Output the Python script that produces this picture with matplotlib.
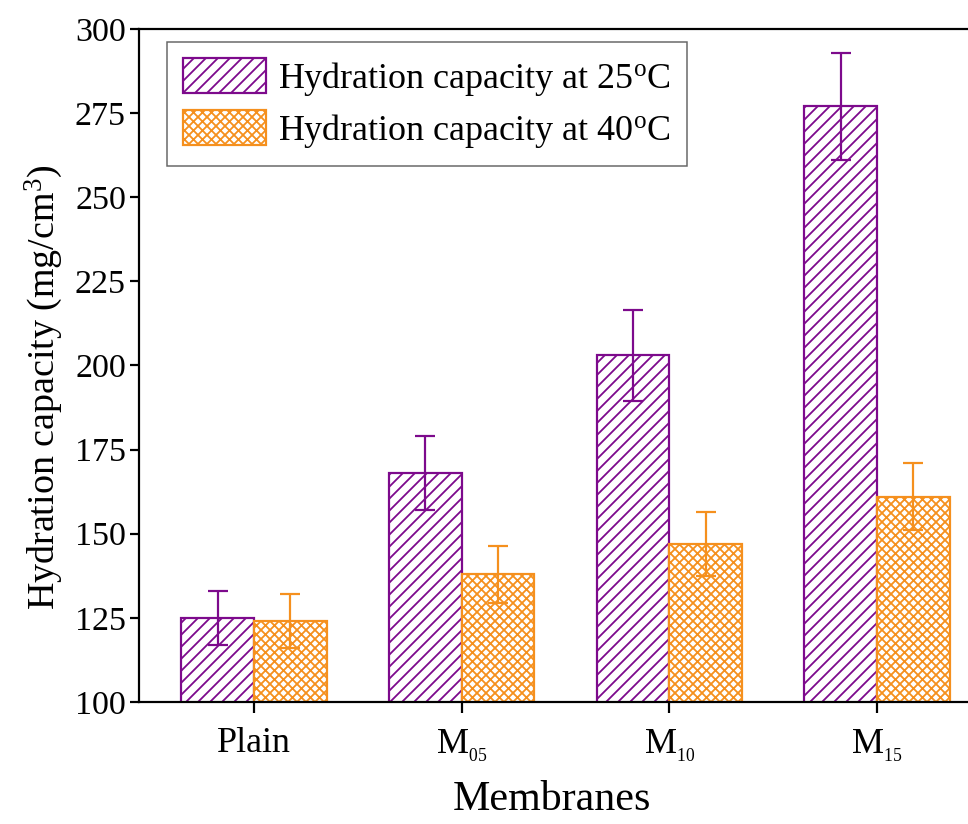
import matplotlib
matplotlib.use("Agg")
import matplotlib.pyplot as plt
import numpy as np

DPI = 216


def px(v):
    """Convert a pixel size to points at the figure dpi."""
    return v * 72.0 / DPI


categories = ["Plain", r"M$_{{}_{05}}$", r"M$_{{}_{10}}$", r"M$_{{}_{15}}$"]
hyd_25 = [125, 168, 203, 277]
err_25 = [8, 11, 13.5, 16]
hyd_40 = [124, 138, 147, 161]
err_40 = [8, 8.5, 9.5, 10]
series_labels = [r"Hydration capacity at 25$^{\mathrm{o}}$C",
                 r"Hydration capacity at 40$^{\mathrm{o}}$C"]
yticks = [100, 125, 150, 175, 200, 225, 250, 275, 300]

purple = "#7D0A8C"
orange = "#F5901E"

plt.rcParams["font.family"] = ["Liberation Serif", "DejaVu Serif"]
plt.rcParams["mathtext.fontset"] = "custom"
plt.rcParams["mathtext.rm"] = "Liberation Serif"
plt.rcParams["mathtext.it"] = "Liberation Serif:italic"
plt.rcParams["hatch.linewidth"] = px(1.8)

fig = plt.figure(figsize=(969 / DPI, 824 / DPI), dpi=DPI)
ax = fig.add_axes([139 / 969, 1 - 702 / 824, (992 - 139) / 969, (702 - 29) / 824])

x = np.arange(len(categories))
w = 0.35
ekw = dict(elinewidth=px(2.2), capthick=px(2.2))
ax.bar(x - w / 2, hyd_25, w, bottom=0, facecolor="white", edgecolor=purple,
       linewidth=px(2.2), hatch="//////", label=series_labels[0],
       yerr=err_25, ecolor=purple, capsize=px(10), error_kw=ekw, zorder=2)
ax.bar(x + w / 2, hyd_40, w, bottom=0, facecolor="white", edgecolor=orange,
       linewidth=px(2.2), hatch="xxxxxxxx", label=series_labels[1],
       yerr=err_40, ecolor=orange, capsize=px(10), error_kw=ekw, zorder=2)

ax.set_xlim(-0.554, 3.554)
ax.set_ylim(100, 300)
ax.set_yticks(yticks)
ax.set_xticks(x)
ax.set_xticklabels(categories)

for s in ax.spines.values():
    s.set_linewidth(px(2.2))
ax.spines["right"].set_visible(False)

ax.tick_params(axis="y", direction="out", length=px(9), width=px(2.2),
               labelsize=px(34), pad=px(4))
ax.tick_params(axis="x", direction="out", length=px(11), width=px(2.2),
               labelsize=px(36), pad=px(14))

ax.set_xlabel("Membranes", fontsize=px(42))
ax.xaxis.set_label_coords(0.484, -0.117)
ax.set_ylabel(r"Hydration capacity (mg/cm$^3$)", fontsize=px(38), labelpad=px(10))
ax.yaxis.label.set_y(0.468)

leg = ax.legend(loc="upper left", bbox_to_anchor=(28 / 853, 1 - 13 / 673),
                fontsize=px(36), frameon=True, fancybox=False,
                edgecolor="#666666", framealpha=1, borderpad=0.45,
                handlelength=2.3, handleheight=1.1, handletextpad=0.33,
                labelspacing=0.35, borderaxespad=0)
leg.get_frame().set_linewidth(px(1.5))

fig.savefig("out.png", dpi=DPI)
